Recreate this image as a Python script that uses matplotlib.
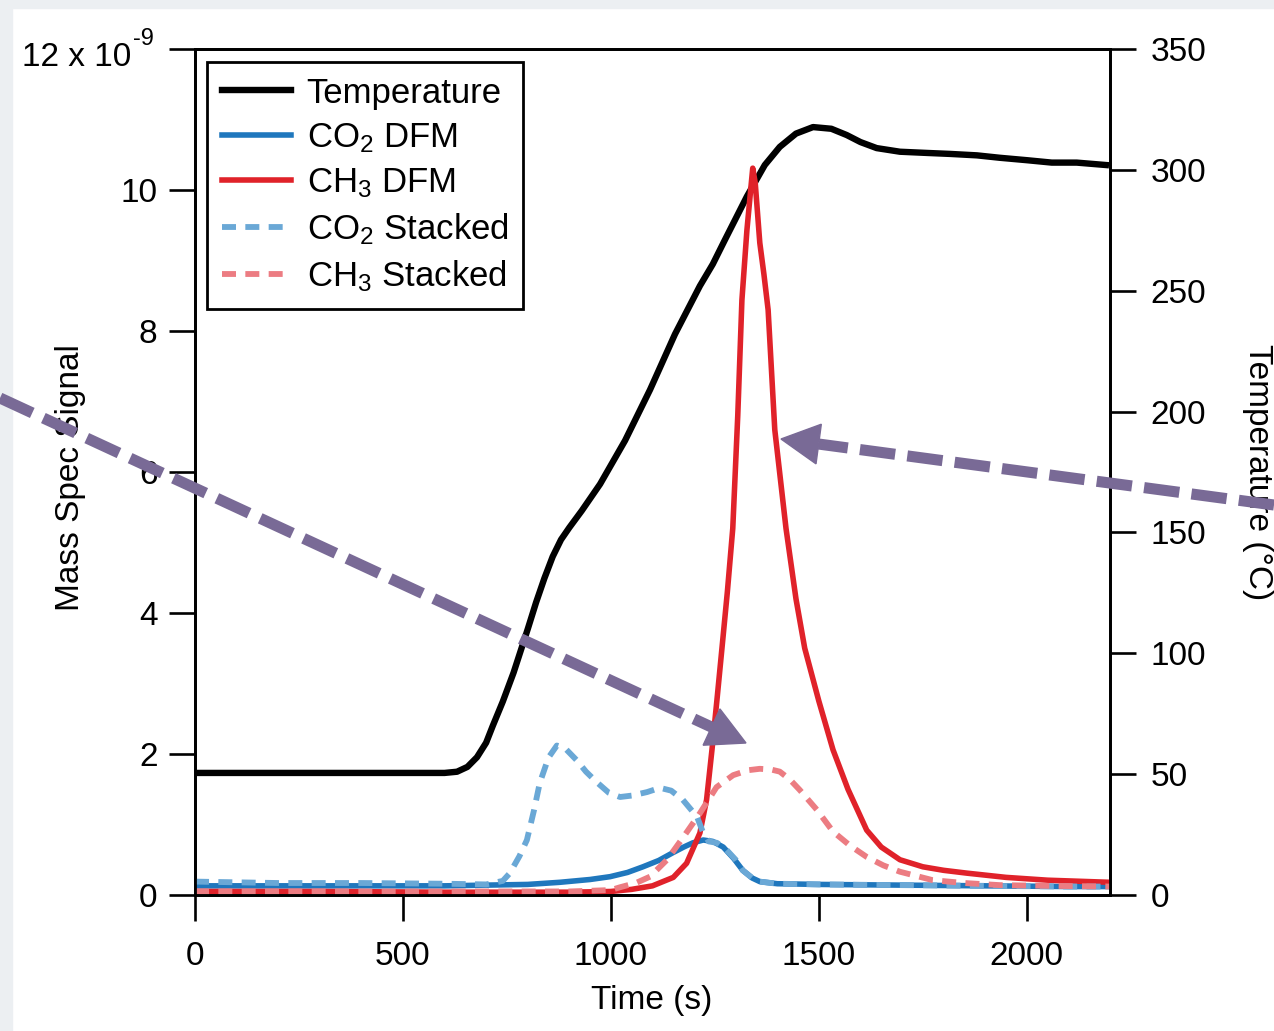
import math
import matplotlib
matplotlib.use("Agg")
import matplotlib.pyplot as plt
from matplotlib.lines import Line2D
from matplotlib.patches import Polygon, Rectangle

plt.rcParams['font.family'] = ['Liberation Sans', 'DejaVu Sans']
plt.rcParams['mathtext.fontset'] = 'custom'
plt.rcParams['mathtext.rm'] = 'Liberation Sans'
plt.rcParams['mathtext.it'] = 'Liberation Sans:italic'
plt.rcParams['mathtext.bf'] = 'Liberation Sans:bold'

# ---- data -------------------------------------------------------------
# Temperature (deg C) on the right axis
temp_t = [0, 300, 600, 630, 655, 678, 700, 716, 740, 766, 800, 820, 840, 860,
          880, 900, 930, 974, 1034, 1094, 1154, 1214, 1245, 1274, 1327, 1370,
          1406, 1445, 1486, 1530, 1567, 1600, 1639, 1695, 1760, 1815, 1880,
          1935, 2000, 2060, 2120, 2190]
temp_c = [50.5, 50.5, 50.5, 51, 53, 57, 63, 70, 80, 92, 110, 121, 131, 140,
          147, 152, 159, 170, 188, 209, 232, 252, 261, 271, 289, 302,
          309.5, 315, 317.7, 317, 314.4, 311.5, 309, 307.5, 307, 306.6, 306,
          305, 304, 303, 303, 302]

# Mass spec signals, in units of 1e-9
co2_dfm_t = [0, 300, 600, 800, 877, 950, 998, 1040, 1077, 1115, 1149, 1175, 1197,
             1222, 1245, 1270, 1295, 1317, 1340, 1358, 1400, 1500, 1700, 1900,
             2100, 2200]
co2_dfm = [0.13, 0.13, 0.13, 0.15, 0.18, 0.22, 0.26, 0.32, 0.40, 0.49, 0.60, 0.68,
           0.74, 0.78, 0.76, 0.68, 0.52, 0.35, 0.24, 0.19, 0.16, 0.15, 0.14, 0.13,
           0.12, 0.12]

ch3_dfm_t = [0, 300, 600, 900, 1000, 1050, 1100, 1150, 1182, 1214, 1230, 1243,
             1255, 1267, 1280, 1293, 1305, 1315, 1327, 1336, 1341, 1347, 1358,
             1368, 1378, 1394, 1421, 1445, 1466, 1500, 1534, 1570, 1615, 1650,
             1695, 1750, 1800, 1856, 1950, 2050, 2200]
ch3_dfm = [0.05, 0.05, 0.04, 0.04, 0.05, 0.08, 0.13, 0.25, 0.45, 0.88, 1.35, 2.06,
           2.77, 3.5, 4.3, 5.2, 6.8, 8.44, 9.43, 10.0, 10.31, 10.1, 9.25,
           8.8, 8.3, 6.6, 5.2, 4.2, 3.5, 2.75, 2.06, 1.5, 0.92, 0.68,
           0.5, 0.4, 0.35, 0.31, 0.25, 0.21, 0.18]

co2_stk_t = [0, 200, 400, 600, 700, 740, 757, 780, 798, 815, 829, 850, 870, 890,
             918, 940, 966, 995, 1022, 1050, 1087, 1118, 1145, 1173, 1207, 1222,
             1235, 1255, 1278, 1300, 1317, 1340, 1358, 1400, 1500, 1700, 1900,
             2100, 2200]
co2_stk = [0.19, 0.17, 0.17, 0.16, 0.15, 0.2, 0.31, 0.55, 0.78, 1.2, 1.59, 1.95,
           2.12, 2.08, 1.91, 1.75, 1.6, 1.45, 1.39, 1.41, 1.46, 1.52, 1.48, 1.35,
           1.11, 0.88, 0.76, 0.74, 0.64, 0.5, 0.35, 0.24, 0.19, 0.16, 0.15, 0.14,
           0.13, 0.12, 0.12]

ch3_stk_t = [0, 300, 600, 900, 1000, 1022, 1060, 1094, 1135, 1174, 1214, 1254,
             1294, 1330, 1358, 1385, 1406, 1430, 1454, 1495, 1534, 1575, 1615,
             1655, 1695, 1774, 1850, 1935, 2050, 2200]
ch3_stk = [0.05, 0.05, 0.05, 0.05, 0.07, 0.11, 0.17, 0.26, 0.5, 0.82, 1.16, 1.53,
           1.70, 1.77, 1.79, 1.78, 1.75, 1.64, 1.49, 1.21, 0.9, 0.7, 0.54,
           0.42, 0.33, 0.21, 0.17, 0.14, 0.13, 0.12]

x_ticks = [0, 500, 1000, 1500, 2000]
y_ticks = [0, 2, 4, 6, 8, 10, 12]
y_tick_labels = ['0', '2', '4', '6', '8', '10', '']   # top label written with its exponent below
t_ticks = [0, 50, 100, 150, 200, 250, 300, 350]

labels = ['Temperature', r'CO$_{\mathregular{2}}$ DFM', r'CH$_{\mathregular{3}}$ DFM',
          r'CO$_{\mathregular{2}}$ Stacked', r'CH$_{\mathregular{3}}$ Stacked']

# ---- figure -----------------------------------------------------------
W, H = 1274, 1031
fig = plt.figure(figsize=(W / 100, H / 100), dpi=100, facecolor='white')


def fx(px):
    return px / W


def fy(py):
    return 1 - py / H


# light page margin on the top and left edges
fig.patches.append(Rectangle((0, fy(8)), 1, 8 / H, transform=fig.transFigure,
                             color='#eceff2', zorder=0))
fig.patches.append(Rectangle((0, 0), fx(12), 1, transform=fig.transFigure,
                             color='#eceff2', zorder=0))

left, right, top, bottom = 195, 1110, 49, 895
rect = [fx(left), fy(bottom), fx(right) - fx(left), fy(top) - fy(bottom)]
ax2 = fig.add_axes(rect)             # temperature (drawn underneath)
ax = fig.add_axes(rect, sharex=ax2)  # mass spec signals
ax.set_zorder(2)
ax.patch.set_visible(False)
ax2.set_zorder(1)

C_BLUE = '#1f77bd'
C_RED = '#e0222a'
C_LBLUE = '#6aa8d6'
C_LRED = '#ec7c82'
DASH = (2.4, 1.6)

l_temp, = ax2.plot(temp_t, temp_c, color='black', lw=4.6)
l_co2, = ax.plot(co2_dfm_t, co2_dfm, color=C_BLUE, lw=4.0)
l_ch3, = ax.plot(ch3_dfm_t, ch3_dfm, color=C_RED, lw=4.0)
l_co2s, = ax.plot(co2_stk_t, co2_stk, color=C_LBLUE, lw=4.2, dashes=DASH)
l_ch3s, = ax.plot(ch3_stk_t, ch3_stk, color=C_LRED, lw=4.2, dashes=DASH)

ax.set_xlim(0, 2200)
ax.set_ylim(0, 12)
ax2.set_ylim(0, 350)

FS = 24
ax.set_xticks(x_ticks)
ax.set_xticklabels([str(v) for v in x_ticks])
ax.set_yticks(y_ticks)
ax.set_yticklabels(y_tick_labels)
ax2.set_yticks(t_ticks)
ax2.set_yticklabels([str(v) for v in t_ticks])

ax.tick_params(axis='both', direction='out', length=19, width=1.9,
               labelsize=FS, color='black')
ax.tick_params(axis='x', pad=14)
ax.tick_params(axis='y', pad=8, left=True, right=False)
ax2.tick_params(axis='y', direction='out', length=19, width=1.9, labelsize=FS,
                left=False, right=True, labelleft=False, labelright=True, pad=10)
ax2.tick_params(axis='x', bottom=False, labelbottom=False)

for a in (ax, ax2):
    for s in a.spines.values():
        s.set_linewidth(2.0)

# top left tick label with its power-of-ten factor
fig.text(fx(131), fy(57), '12 x 10', fontsize=FS, ha='right', va='center')
fig.text(fx(133), fy(39), '-9', fontsize=17, ha='left', va='center')

fig.text(fx(652), fy(1000), 'Time (s)', fontsize=FS, ha='center', va='center')
fig.text(fx(71), fy(478), 'Mass Spec Signal', fontsize=FS, rotation=90,
         ha='center', va='center')
fig.text(fx(1258), fy(472), 'Temperature (\u00b0C)', fontsize=FS, rotation=-90,
         ha='center', va='center')

leg = ax.legend([l_temp, l_co2, l_ch3, l_co2s, l_ch3s], labels,
                loc='upper left', bbox_to_anchor=((207 - left) / (right - left),
                                                  (bottom - 62) / (bottom - top)),
                borderaxespad=0, fontsize=25, frameon=True, fancybox=False,
                handlelength=2.0, handletextpad=0.45, labelspacing=0.33,
                borderpad=0.42)
leg.get_frame().set_edgecolor('black')
leg.get_frame().set_linewidth(2.0)
leg.get_frame().set_facecolor('white')
leg.get_frame().set_alpha(1)

# ---- dashed pointer arrows ------------------------------------------
ARROW = '#796a96'


def pointer(x0, y0, x1, y1, head_len=38, head_w=40):
    dx, dy = x1 - x0, y1 - y0
    d = math.hypot(dx, dy)
    ux, uy = dx / d, dy / d
    bx, by = x1 - ux * head_len, y1 - uy * head_len
    nx, ny = -uy, ux
    fig.add_artist(Line2D([fx(x0), fx(bx)], [fy(y0), fy(by)],
                          transform=fig.transFigure, color=ARROW, lw=8,
                          dashes=(3.2, 1.1), solid_capstyle='butt', zorder=10))
    pts = [(fx(x1), fy(y1)),
           (fx(bx + nx * head_w / 2), fy(by + ny * head_w / 2)),
           (fx(bx - nx * head_w / 2), fy(by - ny * head_w / 2))]
    fig.add_artist(Polygon(pts, closed=True, transform=fig.transFigure,
                           color=ARROW, zorder=10))


pointer(0, 398, 746, 743)
pointer(1274, 505, 781, 439)

fig.savefig('out.png', dpi=100, facecolor=fig.get_facecolor())
